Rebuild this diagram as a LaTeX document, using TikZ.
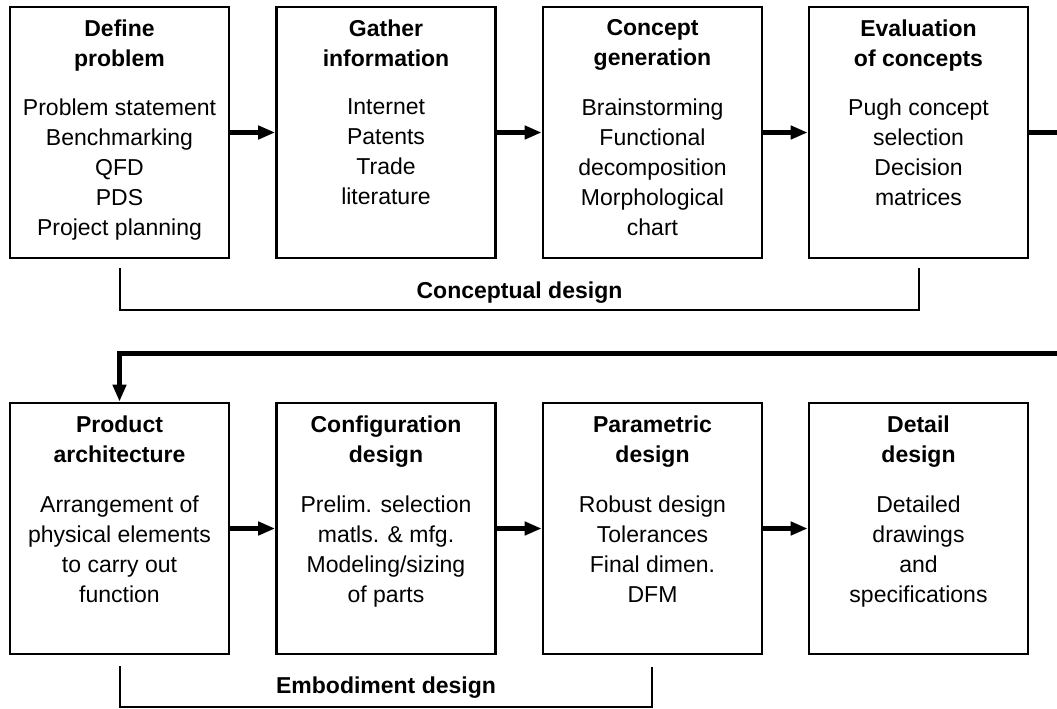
\documentclass[tikz,border=0pt]{standalone}
\usepackage{fontspec}
\setmainfont{Liberation Sans}
\usetikzlibrary{arrows.meta}
\begin{document}
\begin{tikzpicture}[x=1pt,y=-1pt,
 box/.style={draw, line width=2.6pt, minimum width=219pt, minimum height=251pt, inner sep=0pt},
 ttl/.style={anchor=north, align=center, inner sep=0pt, font=\fontsize{23}{30}\selectfont\bfseries},
 body/.style={anchor=north, align=center, inner sep=0pt, font=\fontsize{23}{30}\selectfont},
 flow/.style={line width=4.5pt, -{Triangle[length=17pt,width=13pt]}},
 brk/.style={line width=2.4pt},
 lbl/.style={font=\fontsize{23}{30}\selectfont\bfseries, inner sep=0pt}]
\useasboundingbox (0,0) rectangle (1057,709);
\clip (0,0) rectangle (1057,709);
% top row
\node[box] (b1) at (119.5,132.5) {};
\node[box] (b2) at (386,132.5) {};
\node[box] (b3) at (652.5,132.5) {};
\node[box] (b4) at (918.5,132.5) {};
% bottom row
\node[box] (b5) at (119.5,528.5) {};
\node[box] (b6) at (386,528.5) {};
\node[box] (b7) at (652.5,528.5) {};
\node[box] (b8) at (918.5,528.5) {};
% titles
\node[ttl] (t1) at ([yshift=-14pt]b1.north) {Define\\problem};
\node[ttl] (t2) at ([yshift=-14pt]b2.north) {Gather\\information};
\node[ttl] (t3) at ([yshift=-14pt]b3.north) {Concept\\generation};
\node[ttl] (t4) at ([yshift=-14pt]b4.north) {Evaluation\\of concepts};
\node[ttl] (t5) at ([yshift=-14pt]b5.north) {Product\\architecture};
\node[ttl] (t6) at ([yshift=-14pt]b6.north) {Configuration\\design};
\node[ttl] (t7) at ([yshift=-14pt]b7.north) {Parametric\\design};
\node[ttl] (t8) at ([yshift=-14pt]b8.north) {Detail\\design};
% bodies
\node[body] (d1) at ([yshift=-93pt]b1.north) {Problem statement\\Benchmarking\\QFD\\PDS\\Project planning};
\node[body] (d2) at ([yshift=-93pt]b2.north) {Internet\\Patents\\Trade\\literature};
\node[body] (d3) at ([yshift=-93pt]b3.north) {Brainstorming\\Functional\\decomposition\\Morphological\\chart};
\node[body] (d4) at ([yshift=-93pt]b4.north) {Pugh concept\\selection\\Decision\\matrices};
\node[body] (d5) at ([yshift=-94pt]b5.north) {Arrangement of\\physical elements\\to carry out\\function};
\node[body] (d6) at ([yshift=-94pt]b6.north) {Prelim. selection\\matls. \& mfg.\\Modeling/sizing\\of parts};
\node[body] (d7) at ([yshift=-94pt]b7.north) {Robust design\\Tolerances\\Final dimen.\\DFM};
\node[body] (d8) at ([yshift=-94pt]b8.north) {Detailed\\drawings\\and\\specifications};
% flow arrows
\draw[flow] (b1.east) -- (b2.west);
\draw[flow] (b2.east) -- (b3.west);
\draw[flow] (b3.east) -- (b4.west);
\draw[flow] (b5.east) -- (b6.west);
\draw[flow] (b6.east) -- (b7.west);
\draw[flow] (b7.east) -- (b8.west);
\draw[flow] (b4.east) -- ++(60,0) -- ++(0,221) -| (b5.north);
% brackets
\coordinate (c1) at (120,268);
\coordinate (c2) at (120,310);
\coordinate (c3) at (919,310);
\coordinate (c4) at (919,268);
\draw[brk] (c1) -- (c2) -- (c3) -- (c4);
\node[lbl] (l1) at (519.5,293) {Conceptual design};
\coordinate (e1) at (120,666);
\coordinate (e2) at (120,707);
\coordinate (e3) at (652,707);
\coordinate (e4) at (652,667);
\draw[brk] (e1) -- (e2) -- (e3) -- (e4);
\node[lbl] (l2) at (386,688) {Embodiment design};
\end{tikzpicture}
\end{document}
